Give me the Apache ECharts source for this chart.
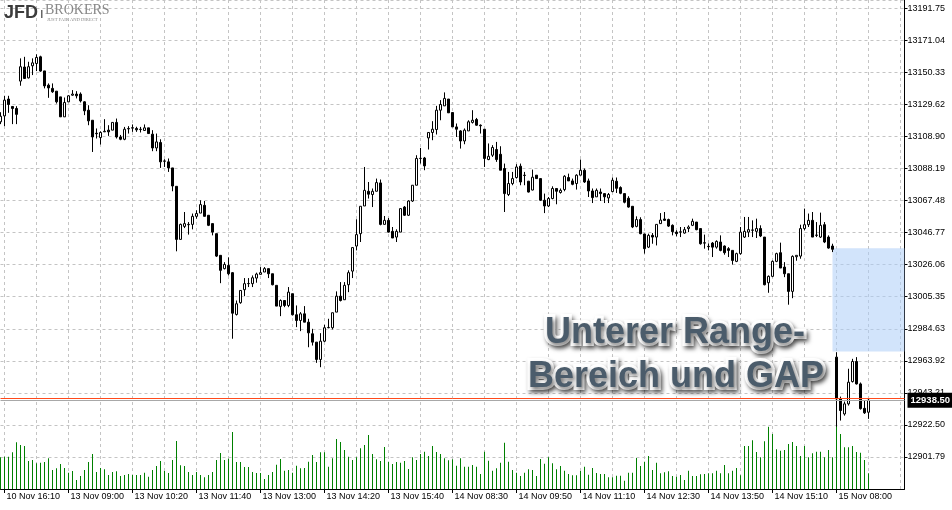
<!DOCTYPE html>
<html>
<head>
<meta charset="utf-8">
<script src="https://cdn.jsdelivr.net/npm/echarts@6/dist/echarts.min.js"></script>
<style>
html,body{margin:0;padding:0;background:#ffffff;}
#chart{width:952px;height:510px;}
</style>
</head>
<body>
<div id="chart"></div>
<script>
// ---- DATA (5-minute candles, DE30 index CFD) ----
const opens = [13118.4,13122.2,13133.1,13128.3,13127.0,13144.7,13153.8,13146.8,13154.6,13156.1,13160.4,13151.3,13142.1,13140.0,13138.2,13134.5,13121.6,13131.3,13135.6,13136.3,13136.3,13131.3,13125.9,13119.4,13111.0,13108.2,13111.9,13113.0,13113.0,13118.0,13108.6,13107.1,13113.8,13114.3,13114.1,13113.4,13112.8,13114.5,13110.4,13101.5,13105.0,13092.9,13092.5,13088.6,13076.7,13042.4,13050.8,13051.9,13052.1,13057.3,13059.4,13064.4,13058.0,13052.6,13046.1,13032.1,13023.5,13025.6,13020.9,12993.9,13001.5,13009.9,13013.8,13013.8,13017.4,13019.8,13021.3,13023.5,13020.2,13012.7,12999.1,13002.9,12999.7,13007.3,12993.7,12990.0,12994.3,12988.9,12981.4,12976.0,12964.8,12976.6,12985.3,12985.3,12995.4,13005.7,13003.4,13013.1,13021.9,13038.1,13046.1,13064.0,13073.5,13071.4,13073.5,13078.9,13052.1,13054.7,13047.6,13043.9,13047.1,13063.3,13058.0,13067.2,13077.4,13094.7,13095.0,13108.0,13111.5,13113.4,13125.9,13128.7,13133.1,13124.4,13115.1,13112.5,13106.0,13112.5,13118.0,13119.9,13116.2,13113.6,13094.0,13096.8,13100.5,13097.4,13088.2,13071.4,13078.5,13082.4,13089.7,13083.7,13080.0,13074.3,13083.9,13081.7,13067.7,13064.0,13068.8,13075.3,13072.7,13074.6,13082.4,13080.2,13078.5,13083.9,13087.1,13080.2,13073.7,13069.9,13073.0,13072.0,13069.2,13073.3,13080.0,13075.9,13072.0,13069.0,13063.8,13050.8,13055.2,13045.9,13037.4,13045.0,13043.9,13052.6,13055.6,13055.2,13051.5,13047.1,13047.1,13046.5,13049.4,13051.5,13053.6,13049.4,13040.2,13037.9,13040.0,13037.4,13040.7,13038.1,13036.4,13035.3,13028.2,13033.2,13043.9,13047.1,13048.3,13047.6,13049.4,13043.9,13014.4,13018.5,13028.2,13033.8,13024.5,13020.2,13008.8,13031.2,13031.6,13049.4,13051.9,13054.7,13045.0,13043.9,13051.9,13043.9,13038.1,12966.3,12939.5,12929.6,12936.1,12950.5,12963.5,12949.0,12933.2,12930.7];
const closes = [13122.0,13132.4,13129.6,13127.0,13123.2,13154.0,13146.4,13154.0,13156.5,13160.0,13151.2,13141.6,13140.3,13137.8,13131.3,13121.6,13130.9,13135.2,13136.3,13135.2,13131.9,13125.5,13119.0,13108.6,13110.7,13111.5,13112.3,13111.9,13118.0,13108.6,13107.1,13113.6,13114.1,13114.6,13113.2,13113.6,13114.5,13110.8,13101.5,13105.4,13092.5,13093.1,13088.6,13076.9,13042.4,13052.1,13052.6,13052.1,13057.3,13059.1,13064.9,13057.3,13051.5,13047.1,13031.6,13022.4,13026.2,13020.2,12994.7,13000.8,13009.4,13013.8,13013.9,13017.6,13020.0,13020.9,13023.5,13020.2,13013.1,12999.3,13002.9,12999.7,13008.3,12993.7,12990.0,12994.3,12988.9,12982.0,12976.0,12964.8,12976.6,12985.3,12985.5,12995.0,13005.7,13002.9,13012.7,13020.9,13037.1,13045.5,13063.8,13074.1,13071.6,13073.5,13079.1,13052.1,13054.7,13047.1,13043.3,13047.6,13062.3,13058.0,13067.2,13077.4,13094.7,13094.8,13089.9,13111.5,13113.6,13125.9,13129.6,13133.5,13124.2,13115.1,13113.6,13106.0,13113.0,13118.4,13119.4,13116.2,13115.8,13094.7,13096.1,13101.8,13094.0,13087.1,13072.0,13078.5,13081.7,13089.2,13079.5,13083.9,13073.0,13082.6,13081.7,13067.7,13064.0,13068.8,13075.3,13073.5,13074.1,13083.2,13080.2,13078.0,13083.9,13087.1,13079.5,13073.7,13069.4,13074.1,13072.0,13069.9,13071.4,13080.6,13075.4,13072.2,13066.4,13063.3,13050.4,13055.2,13046.1,13036.4,13045.0,13043.9,13052.1,13054.9,13054.7,13051.0,13047.4,13046.1,13047.3,13048.7,13050.4,13054.1,13048.7,13039.6,13040.0,13037.7,13037.4,13041.1,13035.3,13033.8,13035.3,13028.8,13033.2,13047.1,13047.6,13048.7,13048.5,13049.4,13044.6,13013.1,13018.5,13028.2,13033.2,13023.9,13020.2,13008.8,13031.4,13032.1,13049.4,13051.9,13054.7,13043.9,13045.2,13051.5,13040.7,13036.8,13036.0,12939.3,12931.8,12936.1,12950.1,12963.5,12949.0,12933.0,12930.3,12938.5];
const lows = [13116.9,13115.6,13124.2,13116.9,13116.9,13141.7,13146.4,13146.4,13148.6,13151.2,13150.7,13140.0,13133.9,13137.1,13130.2,13121.6,13121.6,13131.3,13135.2,13133.5,13130.9,13122.7,13116.2,13098.9,13107.6,13103.7,13111.9,13109.3,13113.0,13107.6,13106.5,13106.5,13110.8,13111.9,13111.9,13111.5,13112.8,13110.8,13099.4,13099.4,13088.6,13089.2,13086.0,13073.5,13034.7,13042.4,13049.7,13045.5,13048.9,13055.8,13059.4,13057.3,13051.0,13045.0,13031.0,13014.1,13023.0,13019.1,12978.2,12993.2,13000.8,13005.7,13011.6,13011.6,13014.4,13019.8,13021.3,13017.4,13012.7,12999.3,12992.8,12998.6,12998.6,12993.2,12985.7,12983.1,12988.9,12972.7,12973.8,12962.6,12959.8,12976.0,12985.0,12984.2,12995.4,13002.3,13003.4,13008.3,13017.4,13035.3,13040.7,13064.0,13068.8,13063.3,13073.5,13051.5,13052.1,13046.8,13043.3,13040.7,13047.1,13057.5,13057.5,13066.6,13077.4,13091.4,13087.1,13100.5,13106.5,13110.2,13119.4,13128.7,13124.2,13115.1,13108.6,13101.1,13103.9,13112.5,13117.3,13115.8,13110.8,13089.2,13093.6,13095.7,13092.5,13087.1,13060.1,13070.4,13077.4,13081.7,13077.4,13077.4,13072.7,13074.1,13081.7,13067.2,13059.4,13063.3,13068.3,13065.1,13072.0,13073.5,13080.2,13077.4,13074.6,13083.9,13078.9,13069.8,13065.9,13069.9,13067.2,13065.9,13065.9,13072.9,13072.4,13071.6,13065.7,13062.9,13049.7,13050.2,13045.7,13033.2,13036.8,13039.6,13038.5,13052.6,13054.3,13050.4,13045.0,13044.4,13043.9,13046.1,13047.1,13051.0,13048.3,13039.0,13036.4,13035.3,13031.0,13036.4,13034.7,13032.5,13031.0,13026.1,13027.7,13032.5,13043.3,13043.9,13043.9,13043.3,13043.9,13012.7,13007.9,13018.0,13027.7,13023.9,13018.0,13000.2,13004.4,13028.6,13029.9,13048.3,13050.4,13043.9,13043.9,13043.3,13040.0,13036.4,13034.2,12921.4,12925.3,12928.5,12935.0,12949.9,12948.6,12932.4,12929.6,12926.4];
const highs = [13124.6,13135.2,13135.2,13128.5,13128.5,13159.4,13160.4,13157.2,13159.4,13162.0,13161.1,13151.3,13143.2,13143.2,13138.2,13134.5,13134.1,13135.6,13138.9,13138.2,13137.4,13131.7,13129.1,13119.4,13114.1,13112.3,13120.1,13116.2,13118.0,13120.5,13109.9,13115.1,13115.6,13116.7,13115.2,13115.1,13116.7,13114.5,13113.0,13110.8,13107.1,13094.2,13094.7,13088.6,13076.7,13052.6,13060.1,13053.6,13059.1,13061.2,13067.7,13067.2,13058.0,13052.6,13046.1,13032.1,13027.7,13030.8,13021.3,13002.9,13009.4,13017.4,13017.4,13019.1,13020.9,13024.5,13024.5,13023.5,13020.2,13012.7,13003.6,13002.9,13011.6,13007.3,12999.7,12995.4,12999.3,12991.1,12984.6,12976.0,12981.8,12987.2,12991.1,12995.0,13008.8,13014.8,13014.8,13022.4,13037.1,13055.4,13063.8,13089.2,13079.5,13075.3,13081.7,13081.1,13057.5,13056.2,13050.4,13048.9,13062.3,13064.0,13067.7,13077.4,13096.8,13101.5,13095.7,13111.5,13118.8,13128.7,13132.4,13137.4,13133.1,13124.4,13117.3,13113.0,13114.1,13119.4,13125.9,13120.9,13116.7,13113.6,13104.4,13103.3,13105.4,13102.6,13091.4,13086.0,13086.0,13091.0,13091.4,13086.0,13080.2,13087.5,13083.9,13081.7,13072.0,13069.8,13076.7,13075.3,13075.3,13083.9,13084.9,13081.7,13084.5,13094.0,13088.2,13081.7,13075.3,13075.3,13075.3,13072.0,13072.4,13082.4,13082.4,13076.7,13072.0,13070.3,13063.8,13057.3,13056.7,13046.1,13046.1,13046.5,13052.1,13059.4,13060.1,13055.8,13052.1,13048.3,13050.4,13050.4,13051.5,13055.8,13053.6,13049.4,13045.5,13039.8,13040.7,13041.8,13045.0,13038.5,13037.4,13035.3,13033.8,13050.4,13056.9,13056.9,13054.7,13055.8,13051.5,13043.9,13019.1,13028.8,13033.8,13040.3,13027.7,13020.2,13032.1,13032.1,13051.9,13062.3,13059.1,13060.1,13053.6,13059.7,13053.6,13045.0,13039.6,12969.5,12940.8,12937.6,12958.8,12965.2,12966.3,12949.9,12938.2,12939.3];
const volumes = [317,323,323,367,467,440,430,280,290,257,263,270,307,190,207,250,210,163,180,90,130,190,270,350,170,210,197,140,170,177,130,140,150,140,140,140,163,123,190,230,280,180,160,290,480,237,230,170,140,170,140,117,140,170,290,360,290,303,570,270,270,220,220,170,160,160,100,140,170,243,300,183,190,163,233,207,210,273,340,270,367,367,223,307,500,470,390,323,290,317,407,440,540,350,297,280,420,273,250,270,263,280,200,317,290,350,373,330,430,370,350,307,287,297,233,307,223,223,240,223,150,373,283,183,207,263,463,273,190,163,130,163,197,190,130,300,253,317,257,197,230,183,150,137,137,180,223,143,210,160,150,150,117,117,133,133,83,163,163,310,230,273,330,190,263,157,167,177,130,123,140,90,183,130,130,147,150,157,157,183,157,240,157,183,210,137,430,430,487,370,317,477,623,550,397,383,390,450,470,430,330,430,317,357,373,373,317,390,317,630,550,417,417,430,370,363,290,157];
const timeLabels = ['10 Nov 16:10','13 Nov 09:00','13 Nov 10:20','13 Nov 11:40','13 Nov 13:00','13 Nov 14:20','13 Nov 15:40','14 Nov 08:30','14 Nov 09:50','14 Nov 11:10','14 Nov 12:30','14 Nov 13:50','14 Nov 15:10','15 Nov 08:00'];
const priceTicks = ['12901.79','12922.50','12943.21','12963.92','12984.63','13005.35','13026.06','13046.77','13067.48','13088.19','13108.90','13129.62','13150.33','13171.04','13191.75'];
const lastPrice = 12938.50;   // bid
const askPrice = 12939.80;    // ask
const gapTop = 13036.6;       // close before the gap
const gapBottom = 12969.9;    // open area after the gap
const gapStartBar = 208;
const annotationLines = ['Unterer Range-', 'Bereich und GAP'];

// ---- layout constants (not data) ----
const firstLabelBar = 1, labelStep = 16, gridStep = 8, emptyBarsRight = 9;
const totalSlots = opens.length + emptyBarsRight;
const cats = [];
for (let i = 0; i < totalSlots; i++) cats.push(String(i));
const candleData = [], volData = [];
for (let i = 0; i < totalSlots; i++) {
  if (i < opens.length) {
    candleData.push([opens[i], closes[i], lows[i], highs[i]]);
    volData.push(volumes[i]);
  } else {
    candleData.push('-');
    volData.push('-');
  }
}
const tickVals = priceTicks.map(Number);
const tickStep = (tickVals[tickVals.length - 1] - tickVals[0]) / (tickVals.length - 1);
const yMin = tickVals[0] - tickStep;

const axisFont = 'Liberation Sans';
const textFx = {
  font: 'bold 36px "Liberation Sans"', fill: '#4b5c6b',
  align: 'center', verticalAlign: 'middle',
  stroke: '#ffffff', lineWidth: 6, strokeFirst: true,
  textShadowColor: 'rgba(0,0,0,0.55)', textShadowBlur: 4, textShadowOffsetX: 2, textShadowOffsetY: 3
};
const chart = echarts.init(document.getElementById('chart'), null, {renderer: 'canvas'});
chart.setOption({
  animation: false,
  backgroundColor: '#ffffff',
  grid: {left: 0.5, right: 47.5, top: 0, bottom: 21, containLabel: false},
  xAxis: {
    type: 'category',
    data: cats,
    boundaryGap: false,
    axisLine: {show: true, onZero: false, lineStyle: {color: '#000', width: 1}},
    axisTick: {
      show: true, length: 4, lineStyle: {color: '#000'},
      interval: (i) => i >= firstLabelBar && (i - firstLabelBar) % labelStep === 0 && (i - firstLabelBar) / labelStep < timeLabels.length
    },
    axisLabel: {
      show: true,
      interval: (i) => i >= firstLabelBar && (i - firstLabelBar) % labelStep === 0 && (i - firstLabelBar) / labelStep < timeLabels.length,
      formatter: (v, i) => {
        const k = (Number(v) - firstLabelBar) / labelStep;
        return Number.isInteger(k) && timeLabels[k] ? timeLabels[k] : '';
      },
      align: 'left', margin: 3, padding: [0, 0, 0, 2],
      color: '#000', fontFamily: axisFont, fontSize: 9, hideOverlap: false
    },
    splitLine: {
      show: true,
      interval: (i) => i >= firstLabelBar && (i - firstLabelBar) % gridStep === 0,
      lineStyle: {color: '#c4c4c4', type: [3, 3], width: 1}
    }
  },
  yAxis: [{
    type: 'value',
    position: 'right',
    min: yMin,
    max: 13197.12,
    interval: tickStep,
    scale: true,
    axisLine: {show: true, lineStyle: {color: '#000', width: 1}},
    axisTick: {show: true, length: 3, lineStyle: {color: '#000'}},
    axisLabel: {
      show: true, margin: 3, color: '#000', fontFamily: axisFont, fontSize: 9,
      showMinLabel: false, showMaxLabel: false,
      formatter: (v) => {
        let best = '', d = 1e9;
        for (const t of priceTicks) { const dd = Math.abs(Number(t) - v); if (dd < d) { d = dd; best = t; } }
        return d < 1 ? best : '';
      }
    },
    splitLine: {show: true, lineStyle: {color: '#c4c4c4', type: [3, 3], width: 1}}
  }, {
    type: 'value',
    show: false,
    min: 0,
    max: 4890,
    splitLine: {show: false}
  }],
  series: [{
    type: 'bar',
    name: 'Volume',
    yAxisIndex: 1,
    data: volData,
    barWidth: 1,
    itemStyle: {color: '#008000'},
    silent: true,
    z: 1
  }, {
    type: 'candlestick',
    name: 'DE30',
    data: candleData,
    barWidth: 2,
    itemStyle: {
      color: '#ffffff', color0: '#000000',
      borderColor: '#000000', borderColor0: '#000000', borderWidth: 1
    },
    silent: true,
    z: 3,
    markArea: {
      silent: true,
      itemStyle: {color: 'rgba(173,206,247,0.55)'},
      data: [[{xAxis: String(gapStartBar), yAxis: gapTop}, {xAxis: cats[cats.length - 1], yAxis: gapBottom}]]
    },
    markLine: {
      silent: true,
      symbol: ['none', 'none'],
      animation: false,
      data: [
        {yAxis: askPrice, lineStyle: {color: '#ff4a1c', width: 1, type: 'solid'}, label: {show: false}},
        {yAxis: lastPrice, lineStyle: {color: '#a8a8a8', width: 1, type: 'solid'},
         label: {show: true, position: 'end', distance: 3, formatter: lastPrice.toFixed(2),
                 backgroundColor: '#000', color: '#fff', fontWeight: 'bold', fontFamily: axisFont,
                 fontSize: 9.5, padding: [3, 3, 2, 3]}}
      ]
    }
  }],
  graphic: [
    {type: 'text', left: 4, top: 4, z: 10, style: {text: 'JFD', font: 'bold 18px "Liberation Sans"', fill: '#3c3c3c'}},
    {type: 'rect', left: 41, top: 10, z: 10, shape: {width: 1.5, height: 8}, style: {fill: '#666'}},
    {type: 'text', left: 45, top: 3, z: 10, style: {text: 'BROKERS', font: '14px "Liberation Serif"', fill: '#888888'}},
    {type: 'text', left: 47, top: 17, z: 10, style: {text: 'JUST FAIR AND DIRECT', font: '4.6px "Liberation Serif"', fill: '#888888'}},
    {type: 'text', z: 20, x: 675, y: 333, style: Object.assign({text: annotationLines[0]}, textFx)},
    {type: 'text', z: 20, x: 676, y: 377, style: Object.assign({text: annotationLines[1]}, textFx)}
  ]
});
</script>
</body>
</html>
